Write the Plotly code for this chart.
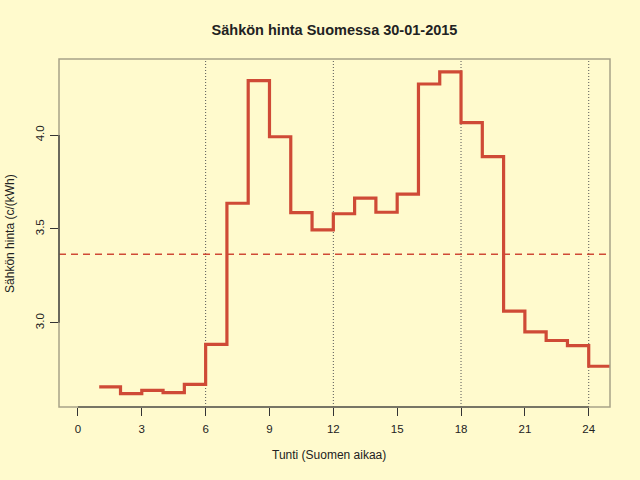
import numpy as np
import plotly.graph_objects as go

# Tuntihinnat 30-01-2015 (c/kWh), tunti 1..24
tunnit = list(range(1, 25))
hinnat = [2.659, 2.623, 2.641, 2.629, 2.673, 2.885,
          3.637, 4.290, 3.991, 3.587, 3.495, 3.581,
          3.664, 3.589, 3.685, 4.272, 4.336, 4.066,
          3.885, 3.062, 2.952, 2.906, 2.879, 2.769]

x_ticks = [0, 3, 6, 9, 12, 15, 18, 21, 24]
y_ticks = [3.0, 3.5, 4.0]
grid_x = [6, 12, 18, 24]

bg = "#FFFACD"
red = "#CF4A36"
box_col = "#A8A288"
ink = "#222222"
font = "Liberation Sans, Arial, sans-serif"

keskiarvo = float(np.mean(hinnat))

# viimeinen tunti jatkuu tunnin loppuun asti
x_step = tunnit + [tunnit[-1] + 1]
y_step = hinnat + [hinnat[-1]]

fig = go.Figure()
fig.add_trace(go.Scatter(
    x=x_step, y=y_step, mode="lines",
    line=dict(color=red, width=3.2, shape="hv"),
    hoverinfo="skip", showlegend=False,
))

shapes = []
for gx in grid_x:
    shapes.append(dict(type="line", xref="x", yref="paper", x0=gx, x1=gx, y0=0, y1=1,
                       line=dict(color="#555555", width=1, dash="1px,2px"), layer="below"))
shapes.append(dict(type="line", xref="paper", yref="y", x0=0, x1=0.994,
                   y0=keskiarvo, y1=keskiarvo,
                   line=dict(color=red, width=1.5, dash="7px,5px")))
# laatikko
shapes.append(dict(type="rect", xref="paper", yref="paper", x0=0, x1=1, y0=0, y1=1,
                   line=dict(color=box_col, width=1.5)))
# akselit
shapes.append(dict(type="line", xref="x", yref="paper", x0=x_ticks[0], x1=x_ticks[-1],
                   y0=0, y1=0, line=dict(color="#333333", width=1.2)))
shapes.append(dict(type="line", xref="paper", yref="y", x0=0, x1=0,
                   y0=y_ticks[0], y1=y_ticks[-1], line=dict(color="#333333", width=1.2)))

fig.update_layout(
    width=640, height=480,
    margin=dict(l=59, r=30, t=59, b=73),
    paper_bgcolor=bg, plot_bgcolor=bg,
    font=dict(family=font, size=12, color=ink),
    title=dict(text="<b>Sähkön hinta Suomessa 30-01-2015</b>", xref="paper", x=0.5,
               xanchor="center", y=0.9375, yanchor="middle",
               font=dict(size=14.5, color=ink)),
    shapes=shapes,
    annotations=[
        dict(text="Tunti (Suomen aikaa)", xref="paper", yref="paper", x=0.49, y=-0.138,
             xanchor="center", yanchor="middle", showarrow=False, font=dict(size=12)),
        dict(text="Sähkön hinta (c/(kWh)", xref="paper", yref="paper", x=-0.089, y=0.5,
             textangle=-90, xanchor="center", yanchor="middle", showarrow=False,
             font=dict(size=12)),
    ],
)

fig.update_xaxes(
    range=[-0.89, 25], tickvals=x_ticks, ticktext=[str(t) for t in x_ticks],
    ticks="outside", ticklen=8, tickcolor="#333333", tickwidth=1,
    showgrid=False, zeroline=False, showline=False,
    tickfont=dict(size=11.5, color=ink), ticklabelstandoff=3,
)
fig.update_yaxes(
    range=[2.552, 4.405], tickvals=y_ticks, ticktext=["3.0", "3.5", "4.0"],
    ticks="outside", ticklen=8, tickcolor="#333333", tickwidth=1,
    showgrid=False, zeroline=False, showline=False, tickangle=-90,
    tickfont=dict(size=11.5, color=ink), ticklabelstandoff=1,
)

# sivun oletusmarginaali pois, jotta kuva täyttää ikkunan
fig.write_html("out.html", config={"displayModeBar": False},
               post_script="document.body.style.margin='0';")
